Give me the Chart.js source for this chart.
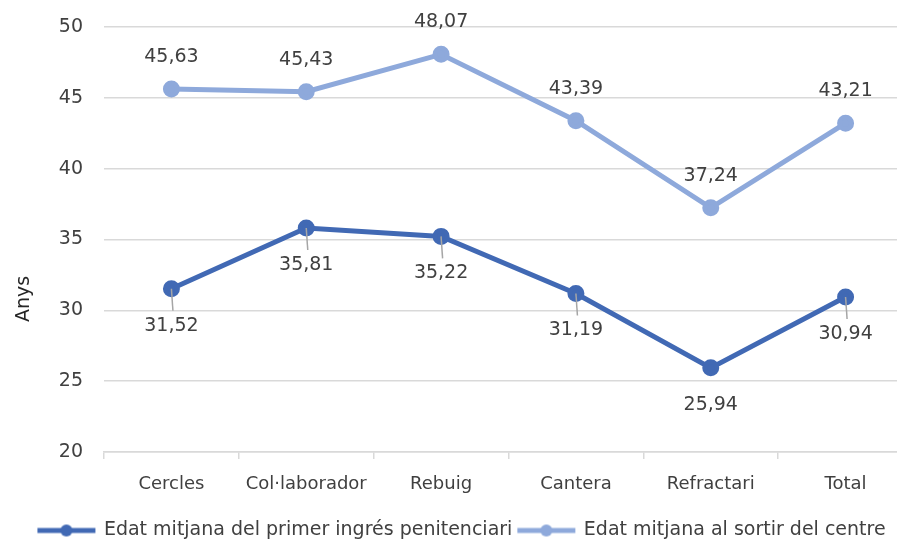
<!DOCTYPE html>
<html>
<head>
<meta charset="utf-8">
<script src="https://cdn.jsdelivr.net/npm/chart.js@4.4.1/dist/chart.umd.min.js"></script>
<style>
  html, body { margin: 0; padding: 0; background: #fff; overflow: hidden; }
  #wrap { width: 924px; height: 547px; }
</style>
</head>
<body>
<div id="wrap"><canvas id="chart"></canvas></div>
<script>
const categories = ['Cercles', 'Col·laborador', 'Rebuig', 'Cantera', 'Refractari', 'Total'];
const firstEntry = [31.52, 35.81, 35.22, 31.19, 25.94, 30.94];
const leavingAge = [45.63, 45.43, 48.07, 43.39, 37.24, 43.21];
const seriesNames = ['Edat mitjana del primer ingrés penitenciari', 'Edat mitjana al sortir del centre'];
const yTicks = [20, 25, 30, 35, 40, 45, 50];
const axisTitle = 'Anys';
// which labels of the first series have a leader line in the original
const hasLeader = [true, true, true, true, false, true];

const font = '"DejaVu Sans", "Liberation Sans", sans-serif';
const textColor = '#404040';
const gridColor = '#d9d9d9';
const dark = '#4169B4';
const light = '#8EA9DB';

// line + dot swatch like the Excel legend
function legendIcon(color) {
  const c = document.createElement('canvas');
  c.width = 64; c.height = 14;
  const ctx = c.getContext('2d');
  ctx.strokeStyle = color;
  ctx.lineWidth = 5;
  ctx.beginPath(); ctx.moveTo(3, 7); ctx.lineTo(61, 7); ctx.stroke();
  ctx.fillStyle = color;
  ctx.beginPath(); ctx.arc(32, 7, 6, 0, Math.PI * 2); ctx.fill();
  return c;
}
const icons = [legendIcon(dark), legendIcon(light)];

const fmt = v => v.toFixed(2).replace('.', ',');

const valueLabels = {
  id: 'valueLabels',
  afterDatasetsDraw(chart) {
    const ctx = chart.ctx;
    ctx.save();
    ctx.font = '19px ' + font;
    ctx.textAlign = 'center';
    ctx.textBaseline = 'middle';
    chart.data.datasets.forEach((ds, i) => {
      const below = i === 0;
      chart.getDatasetMeta(i).data.forEach((pt, j) => {
        if (below && hasLeader[j]) {
          ctx.strokeStyle = '#a6a6a6';
          ctx.lineWidth = 1.5;
          ctx.beginPath();
          ctx.moveTo(pt.x, pt.y);
          ctx.lineTo(pt.x + 1.5, pt.y + 22);
          ctx.stroke();
        }
        ctx.fillStyle = textColor;
        ctx.fillText(fmt(ds.data[j]), pt.x, below ? pt.y + 37 : pt.y - 32);
      });
    });
    // y axis title
    ctx.translate(24, 299);
    ctx.rotate(-Math.PI / 2);
    ctx.fillStyle = '#262626';
    ctx.fillText(axisTitle, 0, 0);
    ctx.restore();
  }
};

new Chart(document.getElementById('chart'), {
  type: 'line',
  data: {
    labels: categories,
    datasets: [
      {
        label: seriesNames[0],
        data: firstEntry,
        borderColor: dark,
        backgroundColor: dark,
        borderWidth: 5,
        pointRadius: 6,
        pointHoverRadius: 6,
        tension: 0
      },
      {
        label: seriesNames[1],
        data: leavingAge,
        borderColor: light,
        backgroundColor: light,
        borderWidth: 5,
        pointRadius: 6,
        pointHoverRadius: 6,
        tension: 0
      }
    ]
  },
  options: {
    responsive: true,
    maintainAspectRatio: false,
    animation: false,
    layout: { padding: { top: 27, right: 0, bottom: -3, left: 0 } },
    plugins: {
      tooltip: { enabled: false },
      legend: {
        position: 'bottom',
        labels: {
          usePointStyle: true,
          pointStyleWidth: 56,
          boxHeight: 14,
          padding: 6,
          color: textColor,
          font: { family: font, size: 19 },
          generateLabels(chart) {
            const items = Chart.defaults.plugins.legend.labels.generateLabels(chart);
            items.forEach((it, i) => { it.pointStyle = icons[i]; });
            return items;
          }
        }
      }
    },
    scales: {
      x: {
        offset: true,
        afterFit(s) { s.height = 63; },
        grid: { offset: true, drawOnChartArea: false, color: gridColor, lineWidth: 1.5, tickLength: 7 },
        border: { color: gridColor, width: 1.5 },
        ticks: { color: textColor, font: { family: font, size: 18 }, padding: 15, maxRotation: 0 }
      },
      y: {
        min: 20,
        max: 50,
        afterBuildTicks(s) { s.ticks = yTicks.map(v => ({ value: v })); },
        afterFit(s) {
          s.width = 104;
          s.paddingTop = 0;
          s.paddingBottom = 0;
        },
        grid: { color: gridColor, lineWidth: 1.5, drawTicks: false },
        border: { display: false },
        ticks: { color: textColor, font: { family: font, size: 19 }, padding: 21 }
      }
    }
  },
  plugins: [valueLabels]
});
</script>
</body>
</html>
